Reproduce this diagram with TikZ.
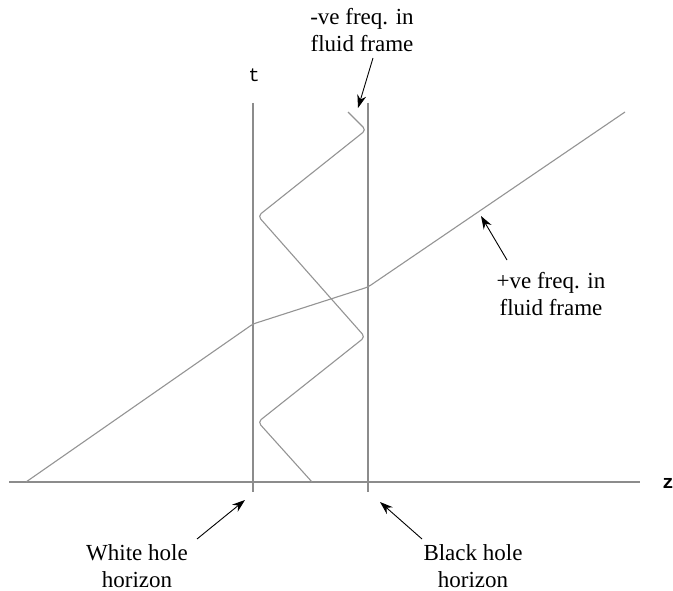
\documentclass[tikz,border=0pt]{standalone}
\usepackage{fontspec}
\setmainfont{Liberation Serif}
\newfontfamily\monofnt{Liberation Mono}
\usetikzlibrary{arrows.meta}
\definecolor{linegray}{gray}{0.55}
\definecolor{raygray}{gray}{0.58}
\begin{document}
\begin{tikzpicture}[x=1pt,y=-1pt,
  axisline/.style={draw=linegray, line width=1.3pt},
  ray/.style={draw=raygray, line width=1.1pt, rounded corners=4pt},
  pointer/.style={draw=black, line width=0.9pt, -{Stealth[length=13pt,width=9pt]}},
  lbl/.style={font=\fontsize{23}{27}\selectfont, align=center, inner sep=0pt},
  axlbl/.style={font=\monofnt\fontsize{19}{21}\selectfont, inner sep=0pt}]
\useasboundingbox (0,0) rectangle (673,591);
\fill[white] (0,0) rectangle (673,591);
% axes
\coordinate (zL) at (9,482);
\coordinate (zR) at (640,482);
\coordinate (wTop) at (253,103);
\coordinate (wBot) at (253,492);
\coordinate (bTop) at (368,103);
\coordinate (bBot) at (368,492);
\draw[axisline] (zL) -- (zR);
\draw[axisline] (wTop) -- (wBot);
\draw[axisline] (bTop) -- (bBot);
\node[axlbl] (tlab) at (254,75) {t};
\node[axlbl, font=\monofnt\bfseries\fontsize{19}{21}\selectfont] (zlab) at (668,483) {z};
% positive frequency ray
\coordinate (p0) at (26,482);
\coordinate (p1) at (253,324);
\coordinate (p2) at (368,287);
\coordinate (p3) at (625,112);
\draw[ray, rounded corners=3pt] (p0) -- (p1) -- (p2) -- (p3);
% negative frequency zigzag
\coordinate (n0) at (348,112);
\coordinate (n1) at (366,130);
\coordinate (n2) at (258,216);
\coordinate (n3) at (365,337);
\coordinate (n4) at (258,422);
\coordinate (n5) at (312,482);
\draw[ray] (n0) -- (n1) -- (n2) -- (n3) -- (n4) -- (n5);
% labels
\node[lbl] (neg) at (362,30) {-ve freq. in\\fluid frame};
\node[lbl] (pos) at (551,294) {+ve freq. in\\fluid frame};
\node[lbl] (white) at (137,566) {White hole\\horizon};
\node[lbl] (black) at (473,566) {Black hole\\horizon};
% pointers
\coordinate (negS) at (373,58);
\coordinate (negT) at (358,108);
\coordinate (posS) at (507,260);
\coordinate (posT) at (481,216);
\coordinate (whS) at (197,539);
\coordinate (whT) at (245,500);
\coordinate (bhS) at (422,539);
\coordinate (bhT) at (380,502);
\draw[pointer] (negS) -- (negT);
\draw[pointer] (posS) -- (posT);
\draw[pointer] (whS) -- (whT);
\draw[pointer] (bhS) -- (bhT);
\end{tikzpicture}
\end{document}
